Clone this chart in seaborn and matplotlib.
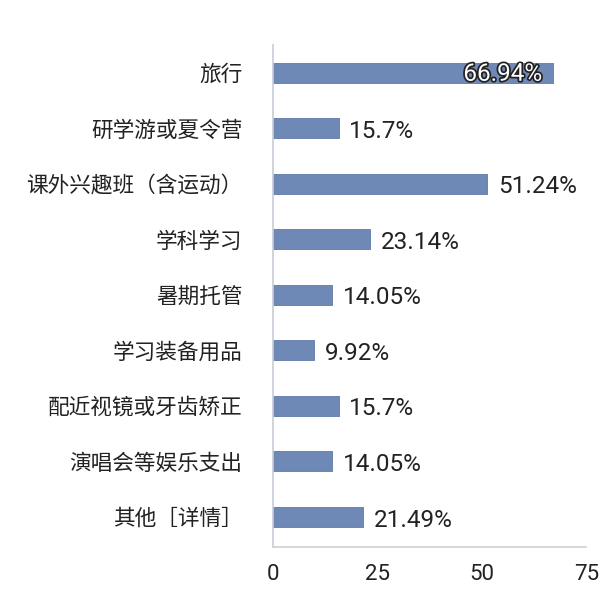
import matplotlib
matplotlib.use('Agg')
import matplotlib.pyplot as plt
import matplotlib.patheffects as pe
import seaborn as sns
import pandas as pd

categories = ['旅行', '研学游或夏令营', '课外兴趣班（含运动）', '学科学习', '暑期托管',
              '学习装备用品', '配近视镜或牙齿矫正', '演唱会等娱乐支出', '其他［详情］']
values = [66.94, 15.7, 51.24, 23.14, 14.05, 9.92, 15.7, 14.05, 21.49]
labels = ['66.94%', '15.7%', '51.24%', '23.14%', '14.05%', '9.92%', '15.7%', '14.05%', '21.49%']
xticks = [0, 25, 50, 75]

sns.set_style('white')
plt.rcParams['font.family'] = ['Noto Sans CJK SC', 'DejaVu Sans']
num_font = ['Roboto', 'DejaVu Sans']

df = pd.DataFrame({'cat': categories, 'val': values})

fig = plt.figure(figsize=(6, 6.06), dpi=100)
ax = fig.add_axes([0.455, 0.097, 0.522, 0.829])

sns.barplot(data=df, x='val', y='cat', orient='h', color='#6e89b6',
            saturation=1, width=0.36, ax=ax, edgecolor='#5f7aa8', linewidth=0.6)

ax.set_xlim(0, 75)
ax.set_ylim(8.55, -0.5)
ax.set_xticks(xticks)
ax.set_xticklabels([str(t) for t in xticks], fontsize=16, color='#222222',
                   family=num_font)
ax.tick_params(axis='y', labelsize=15.6, labelcolor='#222222', length=0, pad=22)
ax.tick_params(axis='x', length=0, pad=12)
ax.set_xlabel('')
ax.set_ylabel('')

for side in ['top', 'right']:
    ax.spines[side].set_visible(False)
ax.spines['left'].set_color('#c8ccd6')
ax.spines['bottom'].set_color('#d0d0d0')
ax.spines['left'].set_linewidth(1.2)
ax.spines['bottom'].set_linewidth(1.2)

bars = ax.containers[0]
for i, (rect, txt) in enumerate(zip(bars, labels)):
    y = rect.get_y() + rect.get_height() / 2
    w = rect.get_width()
    if i == 0:
        ax.text(w - 2.5, y + 0.03, txt, ha='right', va='center', fontsize=17.5,
                color='white', family=num_font,
                path_effects=[pe.withStroke(linewidth=2.5, foreground='#222222')])
    else:
        ax.text(w + 2.6, y + 0.06, txt, ha='left', va='center', fontsize=17.5,
                color='#222222', family=num_font)

fig.savefig('out.png', dpi=100)
